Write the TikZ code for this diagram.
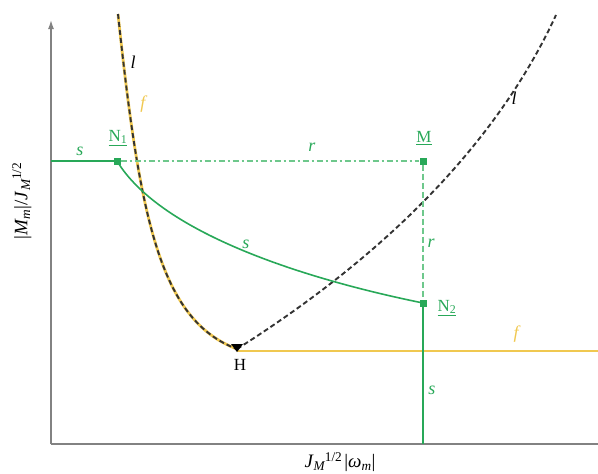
\documentclass[tikz,border=0pt]{standalone}
\usepackage{fontspec}
\setmainfont{Liberation Serif}
\usetikzlibrary{arrows.meta}
\definecolor{sgreen}{RGB}{40,168,88}
\definecolor{rgreen}{RGB}{110,200,140}
\definecolor{fyellow}{RGB}{240,200,80}
\definecolor{axgrey}{RGB}{130,130,130}
\begin{document}
\begin{tikzpicture}[x=1pt,y=-1pt,
  every node/.style={font=\fontsize{17}{19}\selectfont, inner sep=1pt},
  axlab/.style={font=\fontsize{19}{21}\selectfont},
  axis/.style={axgrey, line width=1.4pt},
  sline/.style={sgreen, line width=1.6pt},
  rline/.style={rgreen, line width=1.2pt, dash pattern=on 6pt off 3pt on 2pt off 3pt},
  rvline/.style={rgreen, line width=1.2pt, dash pattern=on 6pt off 3pt},
  fline/.style={fyellow, line width=2.8pt},
  fhline/.style={fyellow, line width=1.6pt},
  lline/.style={black!80, line width=1.9pt, dash pattern=on 5pt off 3pt},
  pt/.style={fill=sgreen, draw=none, minimum size=7pt, inner sep=0pt, rectangle},
  glab/.style={text=sgreen, font=\fontsize{18}{19}\selectfont\itshape},
  ylab/.style={text=fyellow, font=\fontsize{18}{19}\selectfont\itshape},
  llab/.style={text=black, font=\fontsize{18}{19}\selectfont\itshape},
]
\useasboundingbox (0,0) rectangle (598,474);
% axes
\coordinate (O) at (51,444);
\coordinate (Ytop) at (51,20);
\coordinate (Xend) at (598,444);
\draw[axis, -{Latex[length=9pt,width=6pt]}] (O) -- (Ytop);
\draw[axis] (O) -- (Xend);
\node[axlab] at (340,462) {\textit{J}\textsubscript{\textit{M}}\kern-1pt\textsuperscript{1/2}\hspace{2pt}|\textit{ω}\textsubscript{\textit{m}}|};
\node[axlab, rotate=90] at (22,201) {|\textit{M}\textsubscript{\textit{m}}|/\textit{J}\textsubscript{\textit{M}}\kern-1pt\textsuperscript{1/2}};
% points
\coordinate (Sstart) at (51,161);
\node[pt] (N1) at (117,161) {};
\node[pt] (M) at (423,161) {};
\node[pt] (N2) at (423,303) {};
\coordinate (H) at (237,349);
\coordinate (Sbot) at (423,444);
\coordinate (Fstart) at (237,351);
\coordinate (Fend) at (598,351);
\coordinate (Ltop) at (118,14);
\coordinate (Rtop) at (556,15);
% yellow f lines
\draw[fline] (Ltop) .. controls (140,220) and (160,320) .. (H);
\draw[fhline] (Fstart) -- (Fend);
% black dashed l
\draw[lline] (Ltop) .. controls (140,220) and (160,320) .. (H);
\draw[lline] (H) .. controls (330,290) and (480,180) .. (Rtop);
\fill[black] (231,344) -- (243,344) -- (237,352) -- cycle;
% r lines
\draw[rline] (N1) -- (M);
\draw[rvline] (M) -- (N2);
% s lines
\draw[sline] (Sstart) -- (N1.center);
\draw[sline] (N1.center) .. controls (160,232) and (300,278) .. (N2.center);
\draw[sline] (N2.center) -- (Sbot);
% labels
\node[text=sgreen] at (118,138) {\underline{N\textsubscript{1}}};
\node[text=sgreen] at (424,138) {\underline{M}};
\node[text=sgreen] at (447,308) {\underline{N\textsubscript{2}}};
\node at (240,365) {H};
\node[glab] at (80,151) {s};
\node[glab] at (246,244) {s};
\node[glab] at (432,390) {s};
\node[glab] at (312,147) {r};
\node[glab] at (431,243) {r};
\node[ylab] at (143,104) {f};
\node[ylab] at (516,334) {f};
\node[llab] at (133,62) {l};
\node[llab] at (514,98) {l};
\end{tikzpicture}
\end{document}
